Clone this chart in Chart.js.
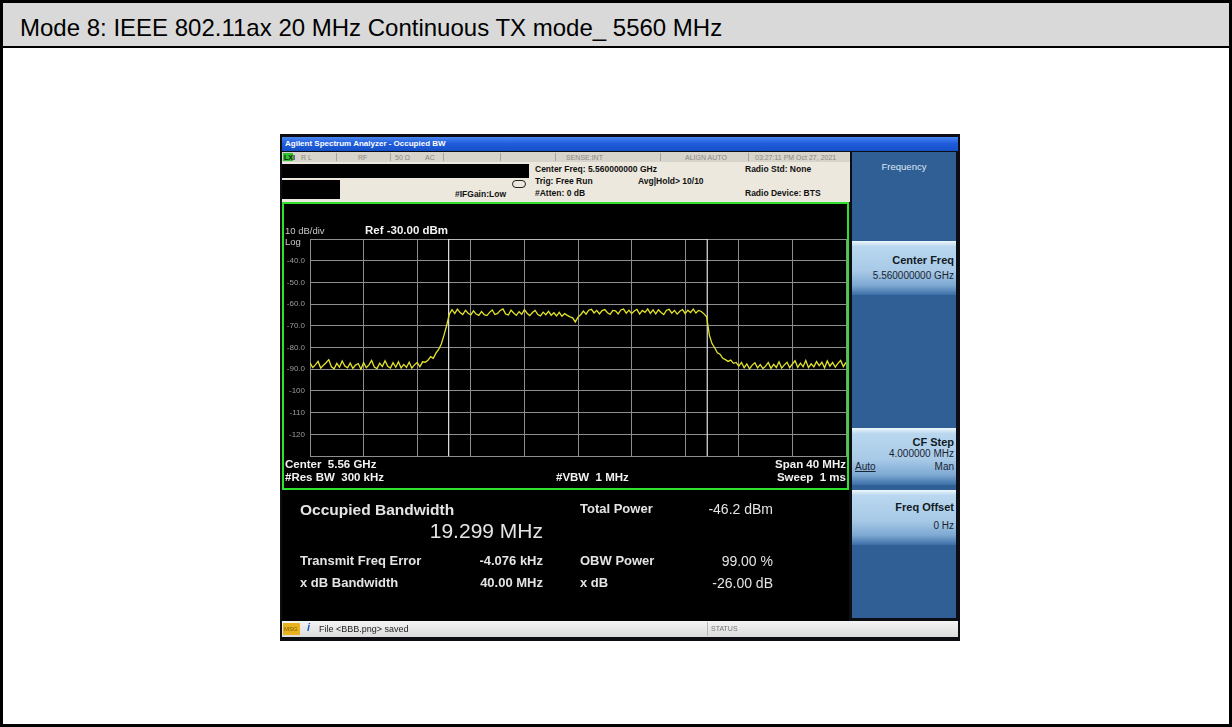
<!DOCTYPE html>
<html>
<head>
<meta charset="utf-8">
<script src="https://cdn.jsdelivr.net/npm/chart.js@4.4.1/dist/chart.umd.min.js"></script>
<style>
  body { margin:0; width:1232px; height:727px; background:#fff; position:relative; overflow:hidden;
         font-family: Arial, "Liberation Sans", sans-serif; }
  .abs { position:absolute; }
  .t { position:absolute; white-space:pre; line-height:1; }
  .page { left:0; top:0; width:1226px; height:721px; border:3px solid #000; }
  .head { left:3px; top:3px; width:1226px; height:43px; background:#d9d9d9; border-bottom:2px solid #000; }
  .frame { left:280px; top:134px; width:680px; height:507px; background:#0d0d14; }
  .titlebar { left:282px; top:137px; width:676px; height:14px;
              background:linear-gradient(#4a86f2, #1f5ddc 45%, #1650c8); }
  .statusrow { left:282px; top:152px; width:568px; height:10px; background:#d7d4cc; }
  .info { left:282px; top:162px; width:568px; height:40px; background:#ece8de; }
  .sep { position:absolute; top:153px; width:1px; height:8px; background:#a9a59c; }
  .small { font-size:7px; color:#8a8780; }
  .hdr { font-size:8.5px; font-weight:bold; color:#111; }
  .plot { left:282px; top:202px; width:567px; height:288px; box-sizing:border-box;
          border:2px solid #2fe02f; background:#000; }
  .meas { left:282px; top:490px; width:567px; height:131px; background:#000; }
  .w { color:#e4e4e4; }
  .keys { left:852px; top:152px; width:104px; height:466px; background:#2f5f95; }
  .btn { position:absolute; left:852px; width:104px;
         background:linear-gradient(#eef7fd 0%, #b9d7ef 10%, #a8cae7 55%, #7ea9d3 82%, #3c6fa7 100%); }
  .k1 { font-size:11px; font-weight:bold; color:#121a24; }
  .k2 { font-size:10px; color:#1a2430; }
  .msgbar { left:282px; top:621px; width:676px; height:16px; background:linear-gradient(#f4f4f4, #dcdcdc); }
</style>
</head>
<body>
<div class="abs page"></div>
<div class="abs head"></div>
<div class="t" style="left:20px; top:16px; font-size:24px; color:#000;">Mode 8: IEEE 802.11ax 20 MHz Continuous TX mode_ 5560 MHz</div>

<div class="abs frame"></div>
<div class="abs titlebar"></div>
<div class="t" style="left:285px; top:140px; font-size:8px; font-weight:bold; color:#fff;">Agilent Spectrum Analyzer - Occupied BW</div>

<div class="abs statusrow"></div>
<div class="abs" style="left:283px; top:153px; width:10px; height:8px; background:#2fc42f;"></div>
<div class="t small" style="left:284px; top:154px; color:#102010; font-weight:bold;">LXI</div>
<div class="t small" style="left:301px; top:154px;">R L</div>
<div class="sep" style="left:336px;"></div>
<div class="t small" style="left:358px; top:154px;">RF</div>
<div class="sep" style="left:390px;"></div>
<div class="t small" style="left:395px; top:154px;">50 Ω</div>
<div class="t small" style="left:425px; top:154px;">AC</div>
<div class="sep" style="left:443px;"></div>
<div class="sep" style="left:500px;"></div>
<div class="sep" style="left:555px;"></div>
<div class="t small" style="left:566px; top:154px;">SENSE:INT</div>
<div class="sep" style="left:660px;"></div>
<div class="t small" style="left:685px; top:154px;">ALIGN AUTO</div>
<div class="sep" style="left:748px;"></div>
<div class="t small" style="left:755px; top:154px;">03:27:11 PM Oct 27, 2021</div>

<div class="abs info"></div>
<div class="abs" style="left:282px; top:164px; width:247px; height:14px; background:#000;"></div>
<div class="abs" style="left:282px; top:180px; width:58px; height:19px; background:#000;"></div>
<div class="t hdr" style="left:455px; top:190px;">#IFGain:Low</div>
<div class="abs" style="left:512px; top:180px; width:12px; height:6px; border:1px solid #222; border-radius:4px;"></div>
<div class="t hdr" style="left:535px; top:165px;">Center Freq: 5.560000000 GHz</div>
<div class="t hdr" style="left:535px; top:177px;">Trig: Free Run</div>
<div class="t hdr" style="left:638px; top:177px;">Avg|Hold&gt; 10/10</div>
<div class="t hdr" style="left:535px; top:189px;">#Atten: 0 dB</div>
<div class="t hdr" style="left:745px; top:165px;">Radio Std: None</div>
<div class="t hdr" style="left:745px; top:189px;">Radio Device: BTS</div>

<div class="abs plot"></div>
<div class="abs" style="left:284px; top:204px; width:563px; height:284px;">
  <canvas id="obw" width="563" height="284"></canvas>
</div>
<div class="t" style="left:285px; top:226px; font-size:9.5px; color:#c8c8c8;">10 dB/div</div>
<div class="t" style="left:285px; top:237px; font-size:9.5px; color:#c8c8c8;">Log</div>
<div class="t" style="left:365px; top:225px; font-size:11.5px; font-weight:bold; color:#f2f2f2;">Ref -30.00 dBm</div>
<div class="t" style="left:285px; top:459px; font-size:11.5px; font-weight:bold; color:#f2f2f2;">Center  5.56 GHz</div>
<div class="t" style="left:285px; top:472px; font-size:11.5px; font-weight:bold; color:#f2f2f2;">#Res BW  300 kHz</div>
<div class="t" style="left:556px; top:472px; font-size:11.5px; font-weight:bold; color:#f2f2f2;">#VBW  1 MHz</div>
<div class="t" style="right:386px; top:459px; font-size:11.5px; font-weight:bold; color:#f2f2f2;">Span 40 MHz</div>
<div class="t" style="right:386px; top:472px; font-size:11.5px; font-weight:bold; color:#f2f2f2;">Sweep  1 ms</div>

<div class="abs meas"></div>
<div class="t w" style="left:300px; top:502px; font-size:15.5px; font-weight:bold;">Occupied Bandwidth</div>
<div class="t w" style="right:689px; top:520px; font-size:21px;">19.299 MHz</div>
<div class="t w" style="left:300px; top:554px; font-size:13px; font-weight:bold;">Transmit Freq Error</div>
<div class="t w" style="right:689px; top:554px; font-size:13px; font-weight:bold;">-4.076 kHz</div>
<div class="t w" style="left:300px; top:576px; font-size:13px; font-weight:bold;">x dB Bandwidth</div>
<div class="t w" style="right:689px; top:576px; font-size:13px; font-weight:bold;">40.00 MHz</div>
<div class="t w" style="left:580px; top:502px; font-size:13px; font-weight:bold;">Total Power</div>
<div class="t w" style="right:459px; top:502px; font-size:14px;">-46.2 dBm</div>
<div class="t w" style="left:580px; top:554px; font-size:13px; font-weight:bold;">OBW Power</div>
<div class="t w" style="right:459px; top:554px; font-size:14px;">99.00 %</div>
<div class="t w" style="left:580px; top:576px; font-size:13px; font-weight:bold;">x dB</div>
<div class="t w" style="right:459px; top:576px; font-size:14px;">-26.00 dB</div>

<div class="abs keys"></div>
<div class="t" style="left:852px; width:104px; text-align:center; top:162px; font-size:9.5px; color:#dfe8f4;">Frequency</div>
<div class="btn" style="top:241px; height:54px;"></div>
<div class="t k1" style="right:278px; top:255px;">Center Freq</div>
<div class="t k2" style="right:278px; top:271px;">5.560000000 GHz</div>
<div class="btn" style="top:428px; height:57px;"></div>
<div class="t k1" style="right:278px; top:437px;">CF Step</div>
<div class="t k2" style="right:278px; top:449px;">4.000000 MHz</div>
<div class="t k2" style="left:855px; top:462px; text-decoration:underline;">Auto</div>
<div class="t k2" style="right:278px; top:462px;">Man</div>
<div class="btn" style="top:490px; height:55px;"></div>
<div class="t k1" style="right:278px; top:502px;">Freq Offset</div>
<div class="t k2" style="right:278px; top:521px;">0 Hz</div>

<div class="abs msgbar"></div>
<div class="abs" style="left:283px; top:623px; width:17px; height:12px; background:#e9b21f;"></div>
<div class="t" style="left:284px; top:626px; font-size:6px; color:#7a5a00;">MSG</div>
<div class="t" style="left:307px; top:622px; font-size:11px; font-weight:bold; font-style:italic; color:#1d5fd0;">i</div>
<div class="t" style="left:319px; top:625px; font-size:9px; color:#222;">File &lt;BBB.png&gt; saved</div>
<div class="abs" style="left:707px; top:622px; width:1px; height:14px; background:#b8b8b8;"></div>
<div class="t" style="left:711px; top:625px; font-size:7px; color:#777;">STATUS</div>

<script>
// sweep settings
const centerGHz = 5.56;
const spanMHz = 40;
const refLevel = -30;
const dbPerDiv = 10;
const divisions = 10;
const sweepStartMHz = -20;
const sweepStepMHz = 0.2;

// measured results
const obwMHz = 19.299;
const freqErrorKHz = -4.076;

// averaged trace, dBm, one value per sweep point
const traceDbm = [
  -87.1, -89.2, -88.0, -86.4, -89.5, -88.2, -87.0, -85.6, -88.9, -89.8,
  -87.3, -89.1, -86.2, -88.6, -89.4, -87.2, -89.6, -88.1, -87.4, -90.0,
  -86.9, -89.3, -88.0, -86.0, -89.0, -89.7, -87.2, -88.8, -86.1, -88.7,
  -89.5, -87.0, -89.1, -86.6, -89.4, -87.8, -89.2, -86.8, -89.5, -88.0,
  -86.9, -88.9, -86.6, -86.8, -85.9, -84.2, -85.0, -82.6, -80.9, -78.4,
  -74.3, -69.8, -64.6, -62.6, -64.4, -62.3, -63.9, -64.8, -62.9, -64.2,
  -65.0, -63.1, -64.6, -65.2, -63.4, -64.9, -65.3, -63.8, -62.7, -64.8,
  -64.3, -62.9, -62.2, -64.6, -65.0, -62.8, -64.1, -65.2, -63.5, -64.7,
  -62.6, -64.2, -65.3, -63.9, -62.9, -64.8, -65.4, -63.7, -64.9, -63.3,
  -65.1, -64.0, -65.5, -63.8, -65.6, -64.4, -65.2, -65.9, -66.3, -68.2,
  -66.0, -64.9, -63.2, -64.6, -62.8, -62.4, -64.1, -62.9, -64.5, -63.0,
  -62.5, -64.0, -64.7, -62.9, -63.1, -64.5, -62.7, -62.3, -64.2, -62.8,
  -64.4, -63.2, -62.4, -64.6, -62.9, -63.8, -62.2, -64.3, -62.7, -64.5,
  -62.6, -63.9, -64.8, -62.8, -62.4, -64.2, -62.9, -64.6, -63.3, -62.5,
  -64.4, -62.8, -63.9, -62.3, -64.1, -62.9, -63.4, -64.5, -65.8, -74.2,
  -78.2, -80.1, -82.4, -83.1, -85.0, -85.6, -86.4, -85.8, -87.3, -86.9,
  -88.6, -86.9, -89.3, -87.6, -89.8, -88.1, -87.0, -89.4, -87.9, -89.7,
  -88.6, -86.9, -89.6, -87.8, -89.2, -86.6, -89.5, -88.0, -86.8, -89.3,
  -87.6, -86.1, -89.1, -87.2, -88.9, -86.0, -89.3, -87.5, -88.9, -86.5,
  -88.4, -86.8, -89.4, -86.2, -88.6, -86.9, -89.0, -87.3, -86.0, -88.8,
  -86.9
];

const bottomLevel = refLevel - dbPerDiv * divisions;
const tracePoints = traceDbm.map((v, i) => ({ x: sweepStartMHz + i * sweepStepMHz, y: v }));

// OBW edges, offset by the carrier error
const obwCenter = freqErrorKHz / 1000;
const obwLo = obwCenter - obwMHz / 2;
const obwHi = obwCenter + obwMHz / 2;
const markerPoints = [
  { x: obwLo, y: bottomLevel }, { x: obwLo, y: refLevel },
  { x: obwHi, y: refLevel }, { x: obwHi, y: bottomLevel }
];

const gridColor = '#8e8e8e';

new Chart(document.getElementById('obw'), {
  type: 'line',
  data: {
    datasets: [
      { data: tracePoints, borderColor: '#e4e42c', borderWidth: 1.3, pointRadius: 0, tension: 0, order: 0 },
      { data: markerPoints, borderColor: '#e2e2e2', borderWidth: 1.2, pointRadius: 0, tension: 0, order: 1 }
    ]
  },
  options: {
    responsive: false,
    animation: false,
    devicePixelRatio: 1,
    layout: { padding: { top: 35, right: 1, bottom: 32, left: 0 } },
    plugins: { legend: { display: false }, tooltip: { enabled: false } },
    scales: {
      x: {
        type: 'linear',
        min: -spanMHz / 2,
        max: spanMHz / 2,
        grid: { color: gridColor, drawTicks: false },
        border: { color: gridColor },
        ticks: { display: false, stepSize: spanMHz / divisions },
        afterFit: s => { s.height = 0; }
      },
      y: {
        min: bottomLevel,
        max: refLevel,
        grid: { color: gridColor, drawTicks: false },
        border: { color: gridColor },
        ticks: {
          stepSize: dbPerDiv,
          padding: 5,
          color: '#9c9c9c',
          font: { size: 8, family: 'Arial' },
          callback: v => (v === refLevel || v === bottomLevel) ? '' : (v > -100 ? v.toFixed(1) : String(v))
        },
        afterFit: s => { s.width = 26; }
      }
    }
  }
});
</script>
</body>
</html>
